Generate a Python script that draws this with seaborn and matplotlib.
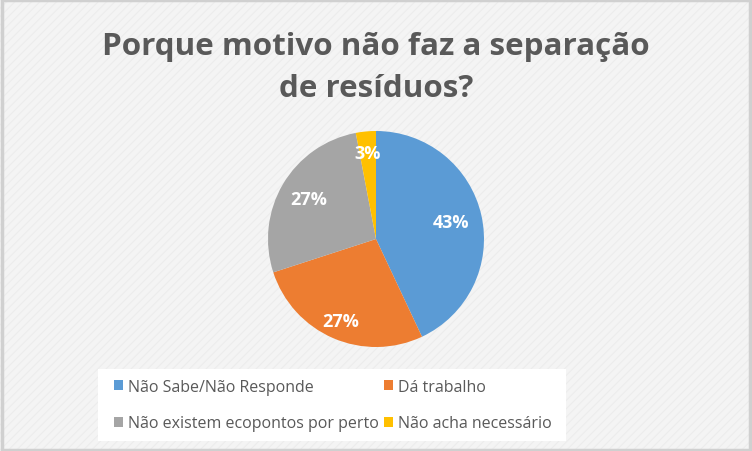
import matplotlib
matplotlib.use("Agg")
import matplotlib.pyplot as plt
from matplotlib.patches import Rectangle, Patch
import numpy as np
import seaborn as sns

categories = ["Não Sabe/Não Responde", "Dá trabalho",
              "Não existem ecopontos por perto", "Não acha necessário"]
values = [43, 27, 27, 3]
labels = ["43%", "27%", "27%", "3%"]
title_lines = ["Porque motivo não faz a separação", "de resíduos?"]

sns.set_theme(style="white")
plt.rcParams["font.family"] = ["Open Sans", "DejaVu Sans"]
plt.rcParams["hatch.color"] = "#ececec"
plt.rcParams["hatch.linewidth"] = 0.8

colors = ["#5B9BD5", "#ED7D31", "#A5A5A5", "#FFC000"]
text_col = "#595959"

fig = plt.figure(figsize=(7.52, 4.52), dpi=100)
fig.patch.set_facecolor("#f4f4f4")

bg = Rectangle((0, 0), 1, 1, transform=fig.transFigure, facecolor="#f4f4f4",
               edgecolor="#ececec", hatch="////", linewidth=0, zorder=-10)
fig.patches.append(bg)
border = Rectangle((0.002, 0.003), 0.996, 0.994, transform=fig.transFigure,
                   facecolor="none", edgecolor="#d0d0d0", linewidth=2.5, zorder=-5)
fig.patches.append(border)

fig.text(0.5, 0.897, title_lines[0], ha="center", va="center",
         fontsize=22.6, color=text_col, fontweight="bold")
fig.text(0.5, 0.802, title_lines[1], ha="center", va="center",
         fontsize=22.6, color=text_col, fontweight="bold")

R = 108
cx, cy = 376, 240
ax = fig.add_axes([(cx - R) / 752, (452 - cy - R) / 452, 2 * R / 752, 2 * R / 452])
ax.set_facecolor("none")
wedges, _ = ax.pie(values, colors=colors, startangle=90, counterclock=False,
                   radius=1, wedgeprops=dict(linewidth=0))
ax.set_xlim(-1, 1)
ax.set_ylim(-1, 1)
ax.axis("off")

dists = [0.71, 0.83, 0.72, 0.80]
for w, lab, d in zip(wedges, labels, dists):
    ang = np.deg2rad((w.theta1 + w.theta2) / 2)
    ax.text(d * np.cos(ang), d * np.sin(ang), lab, ha="center", va="center",
            color="white", fontsize=13, fontweight="bold")

lb = Rectangle((98 / 752, (452 - 442) / 452), (566 - 98) / 752, (442 - 370) / 452,
               transform=fig.transFigure, facecolor="white", edgecolor="none", zorder=-1)
fig.patches.append(lb)
order = [0, 2, 1, 3]  # row-major layout in a 2-column legend
handles = [Patch(facecolor=colors[i], edgecolor="none") for i in order]
leg = fig.legend(handles, [categories[i] for i in order], ncol=2, loc="center",
                 bbox_to_anchor=(333 / 752, 1 - 406 / 452), frameon=False,
                 fontsize=11.5, handlelength=0.55, handleheight=0.55,
                 handletextpad=0.35, columnspacing=0.3, labelspacing=1.3)
for t in leg.get_texts():
    t.set_color(text_col)

fig.savefig("out.png", dpi=100, facecolor=fig.get_facecolor())
